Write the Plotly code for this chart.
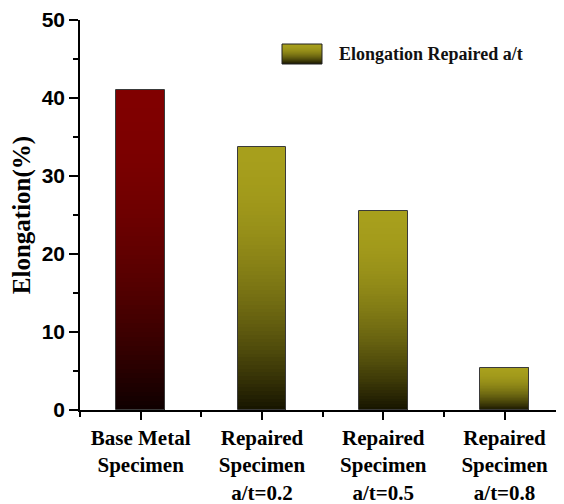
import plotly.graph_objects as go

categories = ["Base Metal<br>Specimen", "Repaired<br>Specimen<br>a/t=0.2",
              "Repaired<br>Specimen<br>a/t=0.5", "Repaired<br>Specimen<br>a/t=0.8"]
elongation = [41.0, 33.7, 25.5, 5.4]
legend_label = "Elongation Repaired a/t"

top_colors = [(128, 0, 0), (167, 159, 28), (167, 159, 28), (167, 159, 28)]
bottom_colors = [(14, 0, 0), (22, 20, 0), (22, 20, 0), (22, 20, 0)]

xpos = list(range(len(categories)))
N = 70
BAR_W = 0.4


def shade(t, top, bot):
    f = 1 - (1 - t) ** 1.9
    return "rgb(%d,%d,%d)" % tuple(round(b + (a - b) * f) for a, b in zip(top, bot))


fig = go.Figure()
for k in range(N):
    t = (k + 0.5) / N
    fig.add_trace(go.Bar(
        x=xpos,
        y=[v / N for v in elongation],
        base=[v * k / N for v in elongation],
        width=BAR_W,
        marker=dict(color=[shade(t, tc, bc) for tc, bc in zip(top_colors, bottom_colors)],
                    line=dict(width=0)),
        showlegend=False, hoverinfo="skip",
    ))
# outline
fig.add_trace(go.Bar(
    x=xpos, y=elongation, width=BAR_W,
    marker=dict(color="rgba(0,0,0,0)", line=dict(color="#3a3a3a", width=1)),
    showlegend=False,
))

# page has an 8px body margin: work in screenshot pixels, subtract offset
OFF = 8
L, R, T, B = 80 - OFF, 564 - OFF, 20 - OFF, 410 - OFF
def px(x):
    return (x - OFF - L) / (R - L)
def py(y):
    return (B - (y - OFF)) / (B - T)

sw_x0, sw_x1, sw_top, sw_bot = 282, 322, 44, 64
steps = sw_bot - sw_top
shapes = []
for i in range(steps):
    t = 1 - (i + 0.5) / steps
    shapes.append(dict(type="rect", xref="paper", yref="paper",
                       x0=px(sw_x0), x1=px(sw_x1), y0=py(sw_top + i + 1), y1=py(sw_top + i),
                       fillcolor=shade(t, top_colors[1], bottom_colors[1]),
                       line=dict(width=0), layer="above"))
shapes.append(dict(type="rect", xref="paper", yref="paper",
                   x0=px(sw_x0), x1=px(sw_x1), y0=py(sw_bot), y1=py(sw_top),
                   line=dict(color="#222", width=1), layer="above"))

W, H = 564 - OFF, 504 - OFF
fig.update_layout(
    width=W, height=H,
    margin=dict(l=L, r=W - R, t=T, b=H - B, pad=0),
    paper_bgcolor="white", plot_bgcolor="white",
    barmode="overlay", bargap=0,
    showlegend=False,
    shapes=shapes,
    annotations=[dict(text="<b>" + legend_label + "</b>", xref="paper", yref="paper",
                      x=px(337), y=py(54), xanchor="left", yanchor="middle", showarrow=False,
                      font=dict(family="Liberation Serif", size=18, color="#111"))],
    xaxis=dict(
        range=[-0.5, 3.49], tickmode="array", tickvals=xpos,
        ticktext=["<b>" + c + "</b>" for c in categories],
        showline=True, linecolor="black", linewidth=1.5,
        ticks="outside", ticklen=8, tickwidth=1.5, tickcolor="black",
        showgrid=False, zeroline=False, automargin=False,
        tickfont=dict(family="Liberation Serif", size=21, color="black"),
        minor=dict(tickmode="array", tickvals=[-0.5, 0.5, 1.5, 2.5], ticks="outside",
                   ticklen=5, tickwidth=1.5, tickcolor="black"),
    ),
    yaxis=dict(
        range=[0, 50], tickmode="array", tickvals=[0, 10, 20, 30, 40, 50],
        showline=True, linecolor="black", linewidth=1.5,
        ticks="outside", ticklen=9, tickwidth=1.5, tickcolor="black",
        showgrid=False, zeroline=False, automargin=False,
        tickfont=dict(family="Liberation Sans", size=21, color="black", weight="bold"),
        title=dict(text="<b>Elongation(%)</b>", standoff=4,
                   font=dict(family="Liberation Serif", size=25, color="black")),
        minor=dict(tickmode="array", tickvals=[5, 15, 25, 35, 45], ticks="outside",
                   ticklen=5, tickwidth=1.5, tickcolor="black"),
    ),
)

fig.write_html("out.html")
